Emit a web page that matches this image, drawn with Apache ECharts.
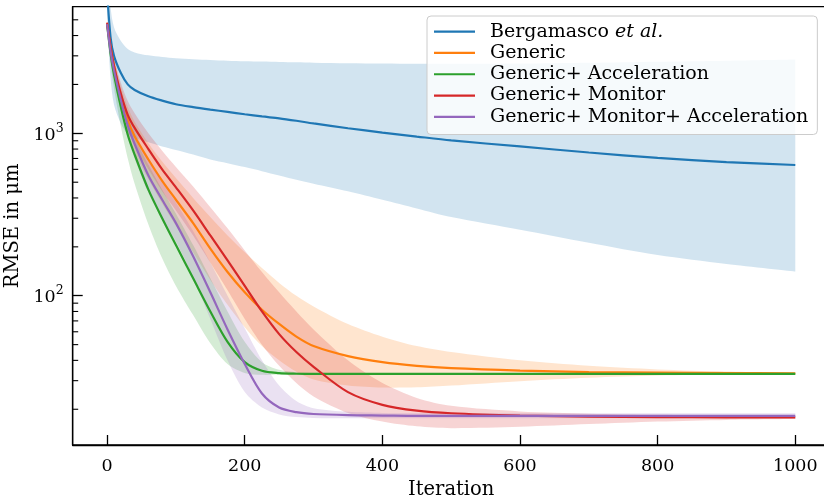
<!DOCTYPE html>
<html><head><meta charset="utf-8">
<script src="https://cdn.jsdelivr.net/npm/echarts@6/dist/echarts.min.js"></script>
<style>html,body{margin:0;padding:0;background:#fff}#c{width:824px;height:496px}</style>
</head><body><div id="c"></div>
<script>
// ---- data ----
const iters = [0,5,10,20,30,40,60,80,100,125,150,175,200,225,250,275,300,350,400,450,500,600,700,800,900,1000];
const names = ['Bergamasco et al.','Generic','Generic+ Acceleration','Generic+ Monitor','Generic+ Monitor+ Acceleration'];
const colors = ['#1f77b4','#ff7f0e','#2ca02c','#d62728','#9467bd'];

const bergMean = [7500,3900,3000,2350,2000,1850,1690,1590,1510,1450,1400,1355,1310,1270,1237,1195,1150,1075,1010,955,905,830,762,706,665,638];
const bergLo   = [5200,2200,1500,1150,990,940,880,830,790,740,690,655,620,585,550,518,490,440,390,345,305,255,212,178,157,141];
const bergHi   = [12000,6000,4500,3700,3300,3150,3020,2950,2900,2860,2830,2800,2780,2765,2750,2735,2720,2700,2690,2680,2680,2690,2720,2760,2800,2850];

const genMean = [4700,3400,2600,1650,1200,960,690,510,390,280,195,140,105,82,67,56,49,42.5,39,37,35.8,34.6,33.9,33.6,33.4,33.3];
const genHi   = [4800,3700,2900,1950,1450,1180,870,670,530,400,305,235,185,148,120,100,86,67,56,49,45,40,37,35.2,34.2,33.6];
const genLo   = [4600,3100,2300,1380,980,760,520,370,270,185,125,88,64,49,40,34,30.5,28,27.2,27.3,28,29.8,31.3,32.3,32.9,33.1];

const accMean = [4700,3100,2300,1450,980,740,450,300,205,128,80,52,39,34.5,33.4,33.1,33,33,33,33,33,33,33,33,33,33];
const accHi   = [4900,3500,2650,1750,1250,950,640,450,320,205,128,80,52,39,35,33.8,33.4,33.2,33.1,33.1,33.1,33.1,33.1,33.1,33.1,33.1];
const accLo   = [4500,2700,1900,1100,700,490,275,170,115,76,51,38,33.5,32.6,32.7,32.8,32.9,32.9,32.9,32.9,32.9,32.9,32.9,32.9,32.9,32.9];

const monMean = [4800,3400,2600,1750,1300,1080,800,600,465,335,235,165,115,80,58,45,36.5,25.5,21.3,19.6,18.9,18.3,18,17.9,17.85,17.8];
const monHi   = [4900,3700,2900,2050,1580,1330,1000,780,620,470,350,260,190,140,105,80,62,40,29,23.5,21,19.4,18.8,18.5,18.3,18.2];
const monLo   = [4700,3100,2300,1450,1050,840,600,440,335,235,160,108,72,50,37,29,24,19,16.8,15.7,15.3,15.6,16.2,16.8,17.2,17.4];

const maMean = [4700,3200,2450,1600,1120,860,550,390,280,175,105,62,38,25,20.5,19.2,18.7,18.4,18.3,18.2,18.2,18.2,18.2,18.2,18.2,18.2];
const maHi   = [4800,3450,2700,1850,1320,1030,690,500,375,250,160,100,63,40,28,22.5,20.3,19.3,19,18.9,18.9,18.9,18.9,18.9,18.9,18.9];
const maLo   = [4600,2950,2200,1380,930,700,430,300,215,130,72,40,25.5,20.5,18.6,17.9,17.7,17.6,17.6,17.6,17.6,17.6,17.6,17.6,17.6,17.6];

const means = [bergMean, genMean, accMean, monMean, maMean];
const los = [bergLo, genLo, accLo, monLo, maLo];
const his = [bergHi, genHi, accHi, monHi, maHi];

const xTicks = [0,200,400,600,800,1000];
const yMinorTicks = [20,30,40,50,60,70,80,90,200,300,400,500,600,700,800,900,2000,3000,4000,5000];
const xMin = -50, xMax = 1050, yMin = 12.05, yMax = 6020;

// ---- chart ----
const FONT = 'DejaVu Serif';
const SMOOTH = 0.3;
const chart = echarts.init(document.getElementById('c'), null, {renderer:'canvas'});
const pairs = arr => iters.map((x,i)=>[x, arr[i]]);

// smooth path through pixel points (same scheme as ECharts line smoothing)
function smoothPath(pts, start) {
  let d = start ? ('M' + pts[0][0] + ' ' + pts[0][1]) : ('L' + pts[0][0] + ' ' + pts[0][1]);
  const n = pts.length;
  const ctrl = pts.map((p, i) => {
    if (i === 0 || i === n - 1) return {a: p, b: p};
    const pr = pts[i-1], nx = pts[i+1];
    const vx = (nx[0]-pr[0])*SMOOTH, vy = (nx[1]-pr[1])*SMOOTH;
    const l0 = Math.hypot(p[0]-pr[0], p[1]-pr[1]), l1 = Math.hypot(nx[0]-p[0], nx[1]-p[1]);
    const r = l1 / (l0 + l1 || 1);
    return {a:[p[0]-vx*(1-r), p[1]-vy*(1-r)], b:[p[0]+vx*r, p[1]+vy*r]};
  });
  for (let i = 1; i < n; i++) {
    const c1 = ctrl[i-1].b, c2 = ctrl[i].a, p = pts[i];
    d += 'C' + c1[0] + ' ' + c1[1] + ' ' + c2[0] + ' ' + c2[1] + ' ' + p[0] + ' ' + p[1];
  }
  return d;
}

const series = [];
// uncertainty bands
for (let k = 0; k < 5; k++) {
  series.push({
    type:'custom', name:'_band'+k, silent:true, z:1, clip:true,
    data: iters.map((x,i)=>[x, los[k][i], his[k][i]]),
    renderItem: function(params, api){
      if (params.dataIndexInside !== 0) return null;
      const n = params.dataInsideLength;
      const up = [], lo = [];
      for (let i = 0; i < n; i++) {
        up.push(api.coord([api.value(0, i), api.value(2, i)]));
        lo.push(api.coord([api.value(0, i), api.value(1, i)]));
      }
      lo.reverse();
      const d = smoothPath(up, true) + smoothPath(lo, false) + 'Z';
      return {type:'path', shape:{pathData:d}, style:{fill:colors[k], opacity:0.2}};
    }
  });
}
// mean lines
for (let k = 0; k < 5; k++) {
  series.push({
    type:'line', name:names[k], data: pairs(means[k]),
    symbol:'none', showSymbol:false, smooth:SMOOTH, z:3,
    color: colors[k],
    lineStyle:{color:colors[k], width:2.2}, itemStyle:{color:colors[k]}
  });
}
// minor y ticks (log-spaced, like matplotlib)
series.push({
  type:'custom', name:'_minor', silent:true, z:6,
  data: yMinorTicks.map(v=>[xMin, v]),
  renderItem: function(params, api){
    const p = api.coord([api.value(0), api.value(1)]);
    return {type:'line', shape:{x1:p[0], y1:p[1], x2:p[0]+5.5, y2:p[1]},
            style:{stroke:'#000', lineWidth:1.1}};
  }
});

const txt = {color:'#000', fontFamily:FONT};
chart.setOption({
  animation:false,
  backgroundColor:'#fff',
  grid:{left:72.7, top:6.7, width:757, height:438.3, outerBoundsMode:'none', containLabel:false,
        show:true, borderColor:'#000', borderWidth:1.3, backgroundColor:'transparent'},
  xAxis:[{
    type:'value', min:xMin, max:xMax,
    axisLine:{show:true, onZero:false, lineStyle:{color:'#000', width:1.3}},
    axisTick:{show:true, inside:true, length:10, customValues:xTicks, lineStyle:{color:'#000', width:1.3}},
    axisLabel:{customValues:xTicks, margin:12, fontSize:17.5, formatter:v=>String(v), ...txt},
    splitLine:{show:false},
    name:'Iteration', nameLocation:'middle', nameGap:34,
    nameTextStyle:{fontSize:19.5, ...txt}
  }],
  yAxis:[{
    type:'log', logBase:10, min:yMin, max:yMax,
    axisLine:{show:true, onZero:false, lineStyle:{color:'#000', width:1.3}},
    axisTick:{show:true, inside:true, length:10, lineStyle:{color:'#000', width:1.3}},
    axisLabel:{
      margin:9, showMinLabel:false, showMaxLabel:false,
      formatter:function(v){
        const l = Math.log10(v), e = Math.round(l);
        if (Math.abs(l-e) > 1e-6) return '';
        return '{b|10}{s|' + e + '}';
      },
      rich:{
        b:{fontSize:17.5, ...txt, verticalAlign:'bottom'},
        s:{fontSize:12.5, ...txt, verticalAlign:'bottom', padding:[0,0,9,0]}
      }
    },
    splitLine:{show:false}, minorTick:{show:false},
    name:'RMSE in μm', nameLocation:'middle', nameGap:43,
    nameTextStyle:{fontSize:19.5, ...txt}
  }],
  legend:{
    data:names, orient:'vertical', left:427, top:16,
    itemWidth:41, itemHeight:2.2, icon:'rect', itemGap:0,
    padding:[5,9,7,7], selectedMode:false,
    backgroundColor:'rgba(255,255,255,0.8)', borderColor:'#cccccc', borderWidth:1, borderRadius:4,
    formatter:function(n){
      if (n === 'Bergamasco et al.') return '{n|Bergamasco }{i|et al.}';
      return '{n|' + n + '}';
    },
    textStyle:{fontSize:19, lineHeight:21.3, padding:[0,0,0,10], ...txt,
      rich:{
        n:{fontSize:19, lineHeight:21.3, ...txt},
        i:{fontSize:19, lineHeight:21.3, fontStyle:'italic', ...txt}
      }
    }
  },
  series: series
});
</script>
</body></html>
